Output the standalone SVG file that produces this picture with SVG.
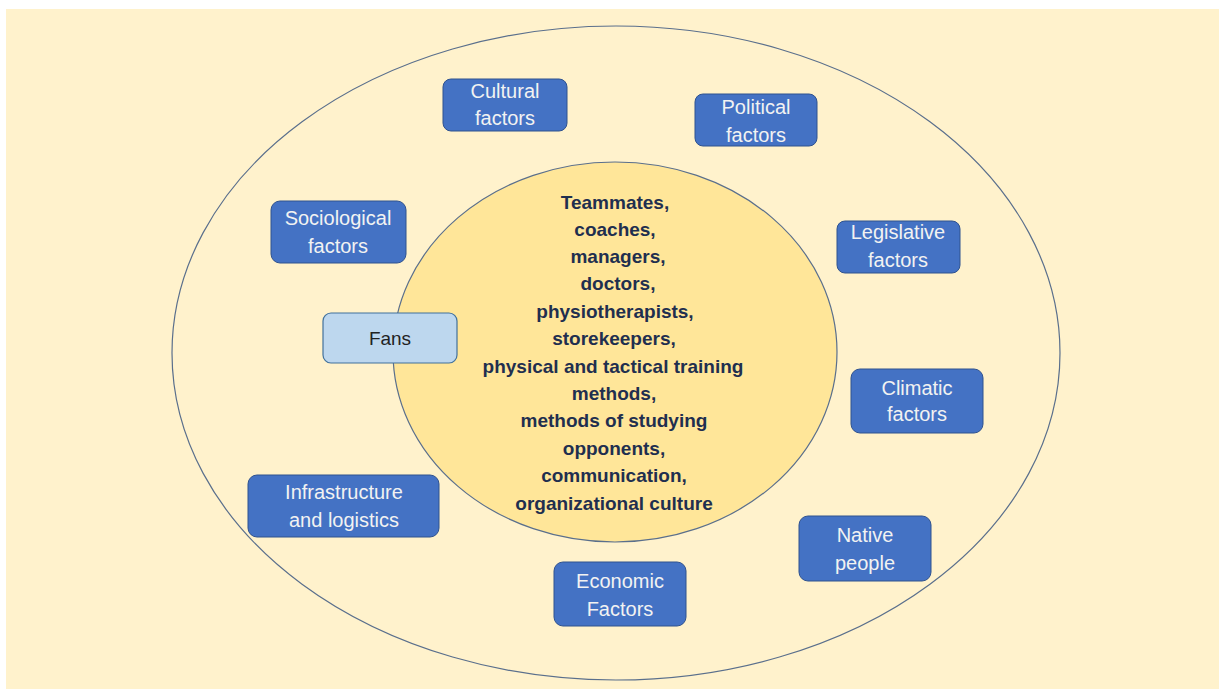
<svg xmlns="http://www.w3.org/2000/svg" width="1220" height="689" viewBox="0 0 1220 689">
<style>
.box rect{fill:#4472C4;stroke:#2F528F;stroke-width:1}
.box text{fill:#F2F2F2;font-family:"Liberation Sans",Arial,sans-serif;font-size:20px;text-anchor:middle;dominant-baseline:central}
.core text{fill:#1F2F4F;font-family:"Liberation Sans",Arial,sans-serif;font-size:19px;font-weight:bold;text-anchor:middle;dominant-baseline:central}
.ring{stroke:#5A6F8C;stroke-width:1.2}
</style>
<rect x="6" y="9" width="1213" height="680" fill="#FFF2CC"/>
<g id="outer"><ellipse class="ring" cx="616" cy="353" rx="444" ry="327" fill="none"/></g>
<g id="core" class="core">
<ellipse class="ring" cx="615" cy="352" rx="222" ry="190" fill="#FFE699"/>
<text x="615" y="202">Teammates,</text>
<text x="615" y="229">coaches,</text>
<text x="618" y="256">managers,</text>
<text x="618" y="283">doctors,</text>
<text x="615" y="311">physiotherapists,</text>
<text x="614" y="338">storekeepers,</text>
<text x="613" y="366">physical and tactical training</text>
<text x="614" y="393">methods,</text>
<text x="614" y="420">methods of studying</text>
<text x="614" y="448">opponents,</text>
<text x="614" y="475">communication,</text>
<text x="614" y="503">organizational culture</text>
</g>
<g id="fans"><rect x="323" y="313" width="134" height="50" rx="8" fill="#BDD7EE" stroke="#41719C" stroke-width="1.2"/><text x="390" y="338" fill="#222" font-family="Liberation Sans,Arial,sans-serif" font-size="19" text-anchor="middle" dominant-baseline="central">Fans</text></g>
<g id="cultural" class="box"><rect x="443" y="79" width="124" height="52" rx="8"/><text x="505" y="91">Cultural</text><text x="505" y="118">factors</text></g>
<g id="political" class="box"><rect x="695" y="94" width="122" height="52" rx="8"/><text x="756" y="107">Political</text><text x="756" y="135">factors</text></g>
<g id="sociological" class="box"><rect x="271" y="201" width="135" height="62" rx="9"/><text x="338" y="218">Sociological</text><text x="338" y="246">factors</text></g>
<g id="legislative" class="box"><rect x="837" y="221" width="123" height="52" rx="8"/><text x="898" y="232">Legislative</text><text x="898" y="260">factors</text></g>
<g id="climatic" class="box"><rect x="851" y="369" width="132" height="64" rx="9"/><text x="917" y="388">Climatic</text><text x="917" y="414">factors</text></g>
<g id="infrastructure" class="box"><rect x="248" y="475" width="191" height="62" rx="9"/><text x="344" y="492">Infrastructure</text><text x="344" y="520">and logistics</text></g>
<g id="native" class="box"><rect x="799" y="516" width="132" height="65" rx="9"/><text x="865" y="535">Native</text><text x="865" y="563">people</text></g>
<g id="economic" class="box"><rect x="554" y="562" width="132" height="64" rx="9"/><text x="620" y="581">Economic</text><text x="620" y="609">Factors</text></g>
<g id="connectors"></g>
</svg>
